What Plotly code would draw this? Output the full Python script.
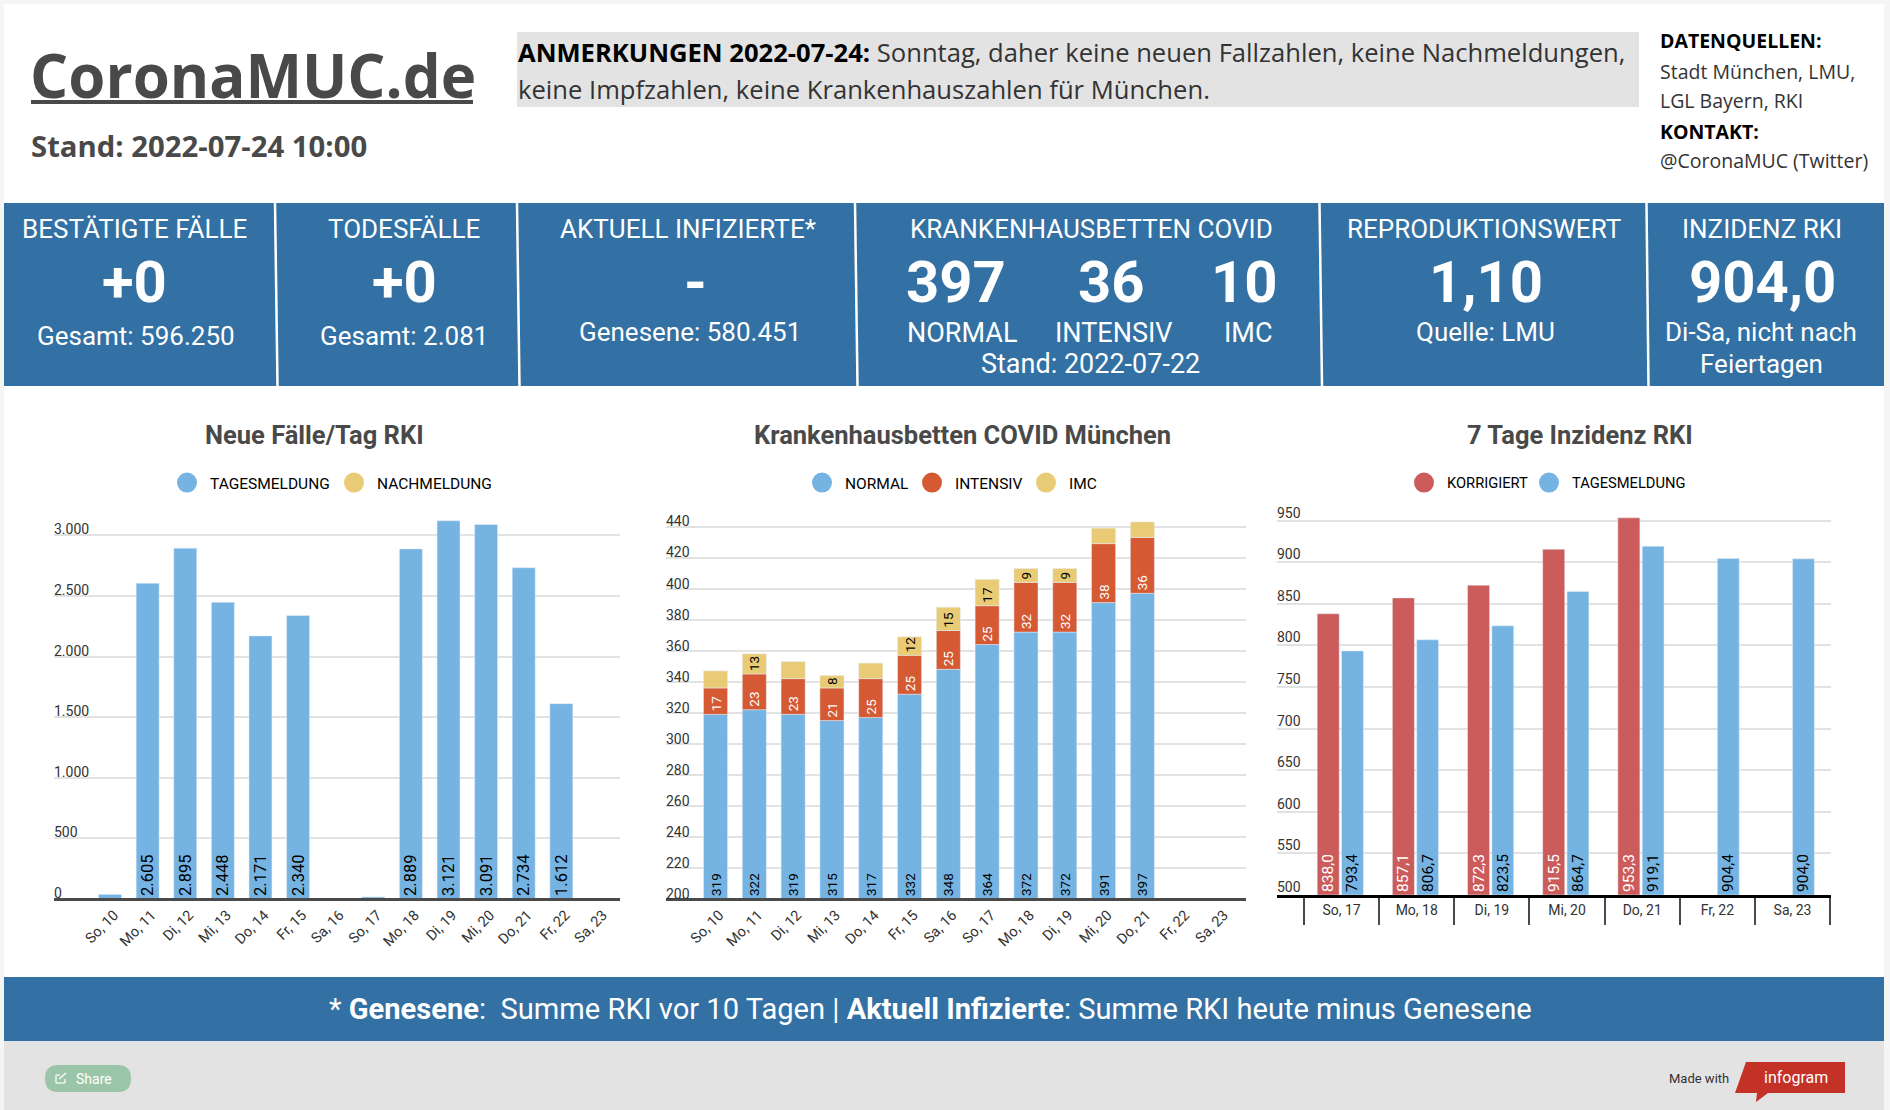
#!/usr/bin/env python3

import plotly.graph_objects as plotly

W = 1890
H = 1110

BLUE = '#74b3e2'
YELLOW = '#e9cb76'
ORANGE = '#d55a34'
RED = '#cc5c5b'
BAND = '#3370a4'
GREY_TEXT = '#494949'
TICK_TEXT = '#333333'
GRID = '#e2e2e2'

# Neue Faelle/Tag RKI
days_a = ['So, 10', 'Mo, 11', 'Di, 12', 'Mi, 13', 'Do, 14', 'Fr, 15', 'Sa, 16',
          'So, 17', 'Mo, 18', 'Di, 19', 'Mi, 20', 'Do, 21', 'Fr, 22', 'Sa, 23']
tagesmeldung_a = [38, 2605, 2895, 2448, 2171, 2340, None, 17, 2889, 3121, 3091, 2734, 1612, None]
labels_a = ['', '2.605', '2.895', '2.448', '2.171', '2.340', '', '', '2.889', '3.121', '3.091',
            '2.734', '1.612', '']
ticks_a = [0, 500, 1000, 1500, 2000, 2500, 3000]
tick_labels_a = ['0', '500', '1.000', '1.500', '2.000', '2.500', '3.000']

# Krankenhausbetten
normal = [319, 322, 319, 315, 317, 332, 348, 364, 372, 372, 391, 397, None, None]
intensiv = [17, 23, 23, 21, 25, 25, 25, 25, 32, 32, 38, 36, None, None]
imc = [11, 13, 11, 8, 10, 12, 15, 17, 9, 9, 10, 10, None, None]
imc_labels = ['', '13', '', '8', '', '12', '15', '17', '9', '9', '', '', '', '']
ticks_b = [200, 220, 240, 260, 280, 300, 320, 340, 360, 380, 400, 420, 440]

# 7 Tage Inzidenz
days_c = ['So, 17', 'Mo, 18', 'Di, 19', 'Mi, 20', 'Do, 21', 'Fr, 22', 'Sa, 23']
korrigiert = [838.0, 857.1, 872.3, 915.5, 953.3, None, None]
tagesmeldung_c = [793.4, 806.7, 823.5, 864.7, 919.1, 904.4, 904.0]
korrigiert_labels = ['838,0', '857,1', '872,3', '915,5', '953,3', '', '']
tagesmeldung_c_labels = ['793,4', '806,7', '823,5', '864,7', '919,1', '904,4', '904,0']
ticks_c = [500, 550, 600, 650, 700, 750, 800, 850, 900, 950]


def px(x):
    return x / W


def py(y):
    return 1 - y / H


def rect(x0, y0, x1, y1, color):
    return dict(type='rect', xref='paper', yref='paper', x0=px(x0), x1=px(x1), y0=py(y0), y1=py(y1),
                fillcolor=color, line_width=0, layer='below')


def line(x0, y0, x1, y1, color, width):
    return dict(type='line', xref='paper', yref='paper', x0=px(x0), x1=px(x1), y0=py(y0), y1=py(y1),
                line=dict(color=color, width=width), layer='below')


def path(points, color):
    d = 'M ' + ' L '.join(f'{px(x)},{py(y)}' for x, y in points) + ' Z'
    return dict(type='path', xref='paper', yref='paper', path=d, fillcolor=color, line_width=0, layer='below')


def note(text, x, y, size, color='white', anchor='center', family='Roboto'):
    return dict(text=text, x=px(x), y=py(y), xref='paper', yref='paper', showarrow=False,
                xanchor=anchor, yanchor='middle', borderpad=0,
                font=dict(family=family, size=size, color=color))


def above(values, floor):
    # bars start at the axis floor so the inside labels stay in view
    return [v - floor if v is not None else None for v in values]


def legend_dot(name, color, xaxis, yaxis, legend):
    return plotly.Scatter(x=[None], y=[None], mode='markers', name=name, xaxis=xaxis, yaxis=yaxis,
                          legend=legend, marker=dict(color=color, size=16, line=dict(color=color, width=4)))


def bars(x, y, color, xaxis, yaxis, width, offset, base=None, text=None, text_color='black', size=15):
    return plotly.Bar(x=x, y=y, base=base, width=width, offset=offset, xaxis=xaxis, yaxis=yaxis,
                      marker_color=color, showlegend=False, text=text,
                      textposition='inside', insidetextanchor='start', textangle=-90, constraintext='none',
                      textfont=dict(family='Roboto', size=size, color=text_color), hoverinfo='skip')


fig = plotly.Figure()

base_imc = [a + b if a is not None else None for a, b in zip(normal, intensiv)]

w_a, w_b = 0.61, 0.62
fig.add_trace(bars(days_a, tagesmeldung_a, BLUE, 'x', 'y', w_a, -w_a / 2, text=labels_a, size=16.5))
fig.add_trace(bars(days_a, above(normal, 200), BLUE, 'x2', 'y2', w_b, -w_b / 2, base=200, text=normal, size=13.5))
fig.add_trace(bars(days_a, intensiv, ORANGE, 'x2', 'y2', w_b, -w_b / 2, base=normal, text=intensiv,
                   text_color='white', size=13.5))
fig.add_trace(bars(days_a, imc, YELLOW, 'x2', 'y2', w_b, -w_b / 2, base=base_imc, text=imc_labels, size=13.5))
fig.add_trace(bars(days_c, above(korrigiert, 500), RED, 'x3', 'y3', 0.293, -0.324, base=500,
                   text=korrigiert_labels, text_color='white', size=15.5))
fig.add_trace(bars(days_c, above(tagesmeldung_c, 500), BLUE, 'x3', 'y3', 0.29, 0, base=500,
                   text=tagesmeldung_c_labels, size=15.5))

fig.add_trace(legend_dot('TAGESMELDUNG', BLUE, 'x', 'y', 'legend'))
fig.add_trace(legend_dot('NACHMELDUNG', YELLOW, 'x', 'y', 'legend2'))
fig.add_trace(legend_dot('NORMAL', BLUE, 'x2', 'y2', 'legend3'))
fig.add_trace(legend_dot('INTENSIV', ORANGE, 'x2', 'y2', 'legend4'))
fig.add_trace(legend_dot('IMC', YELLOW, 'x2', 'y2', 'legend5'))
fig.add_trace(legend_dot('KORRIGIERT', RED, 'x3', 'y3', 'legend6'))
fig.add_trace(legend_dot('TAGESMELDUNG', BLUE, 'x3', 'y3', 'legend7'))

tick_font = dict(family='Roboto', size=14, color=TICK_TEXT)


def y_axis(x, top, bottom, rng, shift):
    return dict(anchor=x, domain=[py(bottom), py(top)], range=rng,
                showgrid=True, gridcolor=GRID, gridwidth=1.5, zeroline=False, showline=False,
                ticks='', ticklabelposition='inside', ticklabelshift=shift, ticklabelstandoff=-3,
                tickfont=tick_font, fixedrange=True)


def x_axis(floor_y, left, right, rng):
    # free axis so the y range can run a little below the floor; the bottom tick label needs that room
    return dict(anchor='free', position=py(floor_y), domain=[px(left), px(right)], type='category',
                categoryorder='array', categoryarray=days_a, range=rng, tickangle=-45, ticks='', showgrid=False,
                zeroline=False, showline=True, linecolor='#4a4a4a', linewidth=3, ticklabelshift=4,
                tickfont=dict(tick_font, size=14.5), fixedrange=True)


def legend_box(dot_x, size=15.5, y=483):
    return dict(orientation='h', x=px(dot_x - 23), y=py(y), xanchor='left', yanchor='middle', itemsizing='trace',
                itemwidth=36, bgcolor='rgba(0,0,0,0)', borderwidth=0, itemclick=False, itemdoubleclick=False,
                font=dict(family='Roboto', size=size, color='black'))


shapes = [
    rect(4, 4, 1884, 977, 'white'),
    rect(517, 32, 1639, 107, '#e3e3e3'),
    rect(4, 203, 1884, 386, BAND),
    rect(4, 977, 1884, 1041, BAND),
    rect(4, 1041, 1884, 1110, '#e3e3e3'),
    rect(31, 100, 473, 104, GREY_TEXT),
    line(275, 203, 277.5, 386, 'white', 2.5),
    line(517, 203, 519.5, 386, 'white', 2.5),
    line(855, 203, 857.5, 386, 'white', 2.5),
    line(1319.5, 203, 1322, 386, 'white', 2.5),
    line(1646.5, 203, 1648.5, 386, 'white', 2.5),
    # share button
    dict(type='path', xref='paper', yref='paper', fillcolor='#9bc5a8', line_width=0, layer='below',
         path=f'M {px(58)},{py(1065)} L {px(118)},{py(1065)} Q {px(131)},{py(1065)} {px(131)},{py(1078.5)} '
              f'Q {px(131)},{py(1092)} {px(118)},{py(1092)} L {px(58)},{py(1092)} '
              f'Q {px(45)},{py(1092)} {px(45)},{py(1078.5)} Q {px(45)},{py(1065)} {px(58)},{py(1065)} Z'),
    line(56, 1075, 56, 1083, 'white', 1.2),
    line(56, 1083, 65, 1083, 'white', 1.2),
    line(65, 1083, 65, 1079, 'white', 1.2),
    line(56, 1075, 60, 1075, 'white', 1.2),
    line(59, 1079, 66, 1073, 'white', 1.2),
    # infogram logo
    path([(1746, 1062), (1845, 1062), (1845, 1093), (1768, 1093), (1756, 1102), (1757, 1093), (1735, 1093)], '#c33127'),
]

annotations = [
    note('<b>CoronaMUC.de</b>', 29, 75, 60, GREY_TEXT, 'left', 'Open Sans'),
    note('<b>Stand: 2022-07-24 10:00</b>', 30, 146, 29.3, GREY_TEXT, 'left', 'Open Sans'),
    note('<b><span style="color:black">ANMERKUNGEN 2022-07-24:</span></b> Sonntag, daher keine neuen Fallzahlen, '
         'keine Nachmeldungen,', 517, 53, 25.6, TICK_TEXT, 'left', 'Open Sans'),
    note('keine Impfzahlen, keine Krankenhauszahlen für München.', 517, 89.5, 25.6, TICK_TEXT, 'left', 'Open Sans'),
    note('<b>DATENQUELLEN:</b>', 1659, 41, 19.5, 'black', 'left', 'Open Sans'),
    note('Stadt München, LMU,', 1659, 71, 19.5, TICK_TEXT, 'left', 'Open Sans'),
    note('LGL Bayern, RKI', 1659, 101, 19.5, TICK_TEXT, 'left', 'Open Sans'),
    note('<b>KONTAKT:</b>', 1659, 131, 19.5, 'black', 'left', 'Open Sans'),
    note('@CoronaMUC (Twitter)', 1659, 161, 19.5, TICK_TEXT, 'left', 'Open Sans'),

    note('BESTÄTIGTE FÄLLE', 134, 229, 26),
    note('<b>+0</b>', 134, 282, 58),
    note('Gesamt: 596.250', 136, 336, 26),
    note('TODESFÄLLE', 404, 229, 26),
    note('<b>+0</b>', 404, 282, 58),
    note('Gesamt: 2.081', 404, 336, 26),
    note('AKTUELL INFIZIERTE*', 688, 229, 26),
    note('<b>-</b>', 695, 282, 58),
    note('Genesene: 580.451', 689.5, 332, 26),
    note('KRANKENHAUSBETTEN COVID', 1091, 229, 26),
    note('<b>397</b>', 956, 282, 58),
    note('<b>36</b>', 1111, 282, 58),
    note('<b>10</b>', 1244, 282, 58),
    note('NORMAL', 962, 333, 27),
    note('INTENSIV', 1114, 333, 27),
    note('IMC', 1248, 333, 27),
    note('Stand: 2022-07-22', 1090, 364, 27),
    note('REPRODUKTIONSWERT', 1484, 229, 26),
    note('<b>1,10</b>', 1486, 282, 58),
    note('Quelle: LMU', 1485, 332, 26),
    note('INZIDENZ RKI', 1762, 229, 26),
    note('<b>904,0</b>', 1762, 282, 58),
    note('Di-Sa, nicht nach', 1761, 332, 26),
    note('Feiertagen', 1761, 364, 26),

    note('<b>Neue Fälle/Tag RKI</b>', 314, 435, 25.5, GREY_TEXT),
    note('<b>Krankenhausbetten COVID München</b>', 963, 435, 25.5, GREY_TEXT),
    note('<b>7 Tage Inzidenz RKI</b>', 1580, 435, 25.5, GREY_TEXT),

    note('* <b>Genesene</b>:  Summe RKI vor 10 Tagen | <b>Aktuell Infizierte</b>: Summe RKI heute minus Genesene',
         930, 1009, 29.1),
    note('Share', 94, 1079, 14),
    note('Made with', 1699, 1078, 13, TICK_TEXT),
    note('infogram', 1796, 1077, 16),
]

# y axes run past the top tick so the raised tick labels are not dropped
yaxis_a = y_axis('x', 487, 904, [-41.3, 3400], -6)
yaxis_a.update(tickvals=ticks_a, ticktext=tick_labels_a)
yaxis_b = y_axis('x2', 480, 904, [196.78, 470], -5)
yaxis_b.update(tickvals=ticks_b)
yaxis_c = y_axis('x3', 479, 895, [500, 1000], -8)
yaxis_c.update(tickvals=ticks_c)

fig.update_layout(
    width=W,
    height=H,
    autosize=False,
    margin=dict(l=0, r=0, t=0, b=0),
    paper_bgcolor='#f5f5f5',
    plot_bgcolor='rgba(0,0,0,0)',
    barmode='overlay',
    showlegend=True,
    hovermode=False,
    shapes=shapes,
    annotations=annotations,
    legend=legend_box(187),
    legend2=legend_box(354),
    legend3=legend_box(822),
    legend4=legend_box(932),
    legend5=legend_box(1046),
    legend6=legend_box(1424, 14.7),
    legend7=legend_box(1549, 14.7),
    xaxis=x_axis(899, 54, 620, [-1.49, 13.56]),
    yaxis=yaxis_a,
    xaxis2=x_axis(899, 666, 1246, [-1.276, 13.67]),
    yaxis2=yaxis_b,
    xaxis3=dict(anchor='y3', domain=[px(1277), px(1830.5)], type='category', categoryorder='array',
                categoryarray=days_c, range=[-0.859, 6.505], tickangle=0, ticks='outside', ticklen=27,
                tickwidth=1.5, tickcolor=GREY_TEXT, tickson='boundaries',
                showgrid=False, zeroline=False, showline=True, linecolor='black', linewidth=3,
                tickfont=tick_font, fixedrange=True),
    yaxis3=yaxis_c,
)

fig.write_html('out.html', config=dict(displayModeBar=False),
               post_script="document.body.style.margin='0';document.body.style.overflow='hidden';")
